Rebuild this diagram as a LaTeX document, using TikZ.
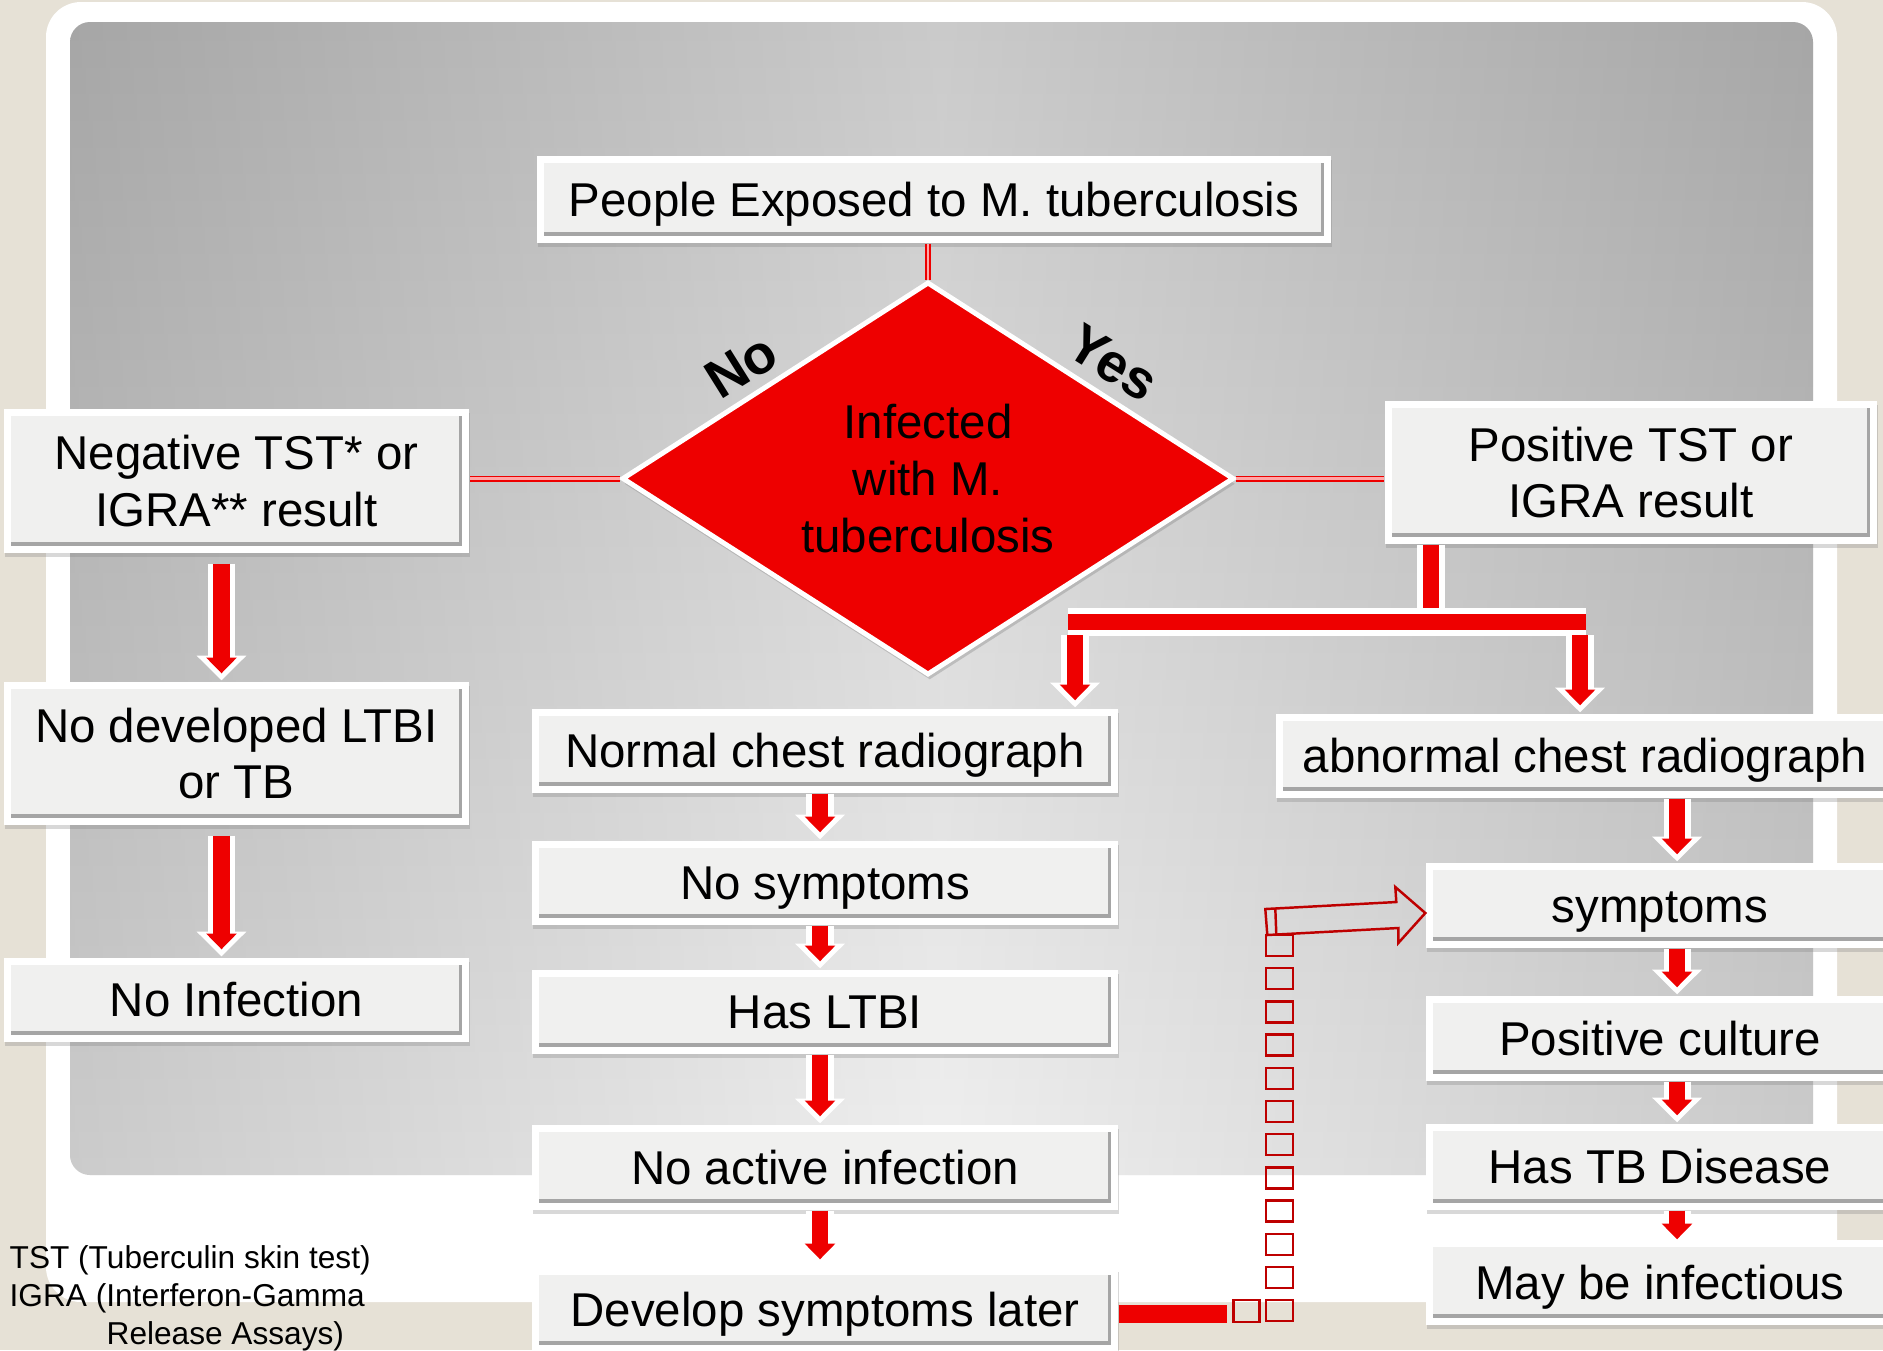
\documentclass[tikz,border=0pt]{standalone}
\usepackage{fontspec}
\setmainfont{Liberation Sans}
\usetikzlibrary{shapes.geometric,arrows.meta,shadows}

\definecolor{beige}{RGB}{230,225,214}
\definecolor{boxface}{RGB}{240,240,239}
\definecolor{bevel}{RGB}{165,165,165}
\definecolor{tbred}{RGB}{238,0,0}
\definecolor{darkred}{RGB}{190,0,0}

\begin{document}
\begin{tikzpicture}[
    box/.style={rectangle, fill=white, inner sep=0pt, align=center,
      font=\fontsize{13.5}{16.2}\selectfont,
      drop shadow={opacity=0.3, shadow xshift=0.4pt, shadow yshift=-1.2pt},
      path picture={
        \fill[bevel] ([shift={(0.07,0.07)}]path picture bounding box.south west)
          rectangle ([shift={(-0.07,-0.07)}]path picture bounding box.north east);
        \fill[boxface] ([shift={(0.07,0.11)}]path picture bounding box.south west)
          rectangle ([shift={(-0.10,-0.07)}]path picture bounding box.north east);}},
    line1/.style={box, text height=11pt, text depth=1.5pt},
    decision/.style={diamond, aspect=1.56, fill=tbred, draw=white, line width=1.4pt,
      inner sep=0pt, align=center, font=\fontsize{13.5}{16.2}\selectfont,
      drop shadow={opacity=0.35, shadow xshift=0.5pt, shadow yshift=-1.5pt}},
    lbl/.style={font=\fontsize{15.5}{18}\selectfont\bfseries, inner sep=0pt},
    note/.style={font=\fontsize{9}{10.8}\selectfont, align=left, anchor=north west, inner sep=0pt},
    thinred/.style={draw=tbred, line width=0.55pt, double=red!35!white, double distance=0.6pt},
    pipe/.style={draw=tbred, line width=4.6pt, preaction={draw=white, line width=7.7pt}},
    blockarr/.style={draw=tbred, line width=4.6pt, shorten >=0.8mm,
      -{Triangle[width=8.5pt,length=4.5pt]},
      preaction={draw=white, line width=7.7pt, shorten >=0.1mm,
        -{Triangle[width=13.7pt,length=7pt]}}},
    dashbar/.style={draw=tbred, line width=5pt},
    sq/.style={draw=darkred, line width=0.7pt},
    hollow/.style={draw=darkred, line width=0.7pt, line join=miter}
  ]
  % slide background
  \useasboundingbox (0,0) rectangle (18.83,-13.5);
  \clip (0,0) rectangle (18.83,-13.5);
  \fill[beige] (0,0) rectangle (18.83,-13.5);
  \fill[white, rounded corners=0.35cm] (0.46,-0.02) rectangle (18.37,-13.02);
  \shade[rounded corners=0.2cm, top color=black!24, bottom color=black!7] (0.70,-0.22) rectangle (18.13,-11.75);
  \shade[rounded corners=0.2cm, left color=black, right color=black, middle color=white, fill opacity=0.14] (0.70,-0.22) rectangle (18.13,-11.75);

  \node[line1, minimum width=7.94cm, minimum height=0.87cm] (people) at (9.34,-1.995) {People Exposed to M. tuberculosis};
  \node[decision, minimum width=6.12cm, minimum height=3.93cm] (infected) at (9.28,-4.785) {Infected\\with M.\\tuberculosis};
  \node[lbl, rotate=32] (nolbl) at (7.41,-3.66) {No};
  \node[lbl, rotate=-32] (yeslbl) at (11.13,-3.63) {Yes};

  % left column
  \node[box, minimum width=4.65cm, minimum height=1.44cm] (neg) at (2.365,-4.81) {Negative TST* or\\IGRA** result};
  \node[box, minimum width=4.65cm, minimum height=1.43cm] (nodev) at (2.365,-7.535) {No developed LTBI\\or TB};
  \node[line1, minimum width=4.65cm, minimum height=0.84cm] (noinf) at (2.365,-10.0) {No Infection};

  % middle column
  \node[line1, minimum width=5.86cm, minimum height=0.84cm] (normal) at (8.25,-7.51) {Normal chest radiograph};
  \node[line1, minimum width=5.86cm, minimum height=0.84cm] (nosym) at (8.25,-8.83) {No symptoms};
  \node[line1, minimum width=5.86cm, minimum height=0.84cm] (ltbi) at (8.25,-10.12) {Has LTBI};
  \node[line1, minimum width=5.86cm, minimum height=0.85cm] (noact) at (8.25,-11.675) {No active infection};
  \node[line1, minimum width=5.86cm, minimum height=0.84cm] (later) at (8.25,-13.10) {Develop symptoms later};

  % right column
  \node[box, minimum width=4.92cm, minimum height=1.43cm] (pos) at (16.31,-4.725) {Positive TST or\\IGRA result};
  \node[line1, minimum width=6.18cm, minimum height=0.84cm] (abnormal) at (15.85,-7.56) {abnormal chest radiograph};
  \node[line1, minimum width=4.68cm, minimum height=0.85cm] (symp) at (16.60,-9.055) {symptoms};
  \node[line1, minimum width=4.68cm, minimum height=0.85cm] (culture) at (16.60,-10.385) {Positive culture};
  \node[line1, minimum width=4.68cm, minimum height=0.86cm] (tbdis) at (16.60,-11.67) {Has TB Disease};
  \node[line1, minimum width=4.68cm, minimum height=0.85cm] (infect) at (16.60,-12.825) {May be infectious};

  \node[note] (footnote) at (0.09,-12.45) {TST (Tuberculin skin test)\\IGRA (Interferon-Gamma\\\hspace*{0.97cm}Release Assays)};

  % thin links round the decision
  \draw[thinred] (people.south -| infected.north) -- (infected.north);
  \draw[thinred] (infected.west) -- (infected.west -| neg.east);
  \draw[thinred] (infected.east) -- (infected.east -| pos.west);

  % fork under the positive result
  \coordinate (forkM) at (14.31,-6.22);
  \coordinate (forkL) at (10.75,-6.22);
  \coordinate (forkR) at ([xshift=-0.5mm]abnormal.north |- forkM);
  \draw[pipe] (pos.south -| forkM) -- ([yshift=1.2mm]forkM);
  \draw[pipe] ([xshift=-0.07cm]forkL) -- ([xshift=0.06cm]forkR);
  \draw[blockarr] ([yshift=-1.3mm]forkL) -- (forkL |- normal.north);
  \draw[blockarr] ([yshift=-1.3mm]forkR) -- (forkR |- abnormal.north);

  \draw[blockarr] ([xshift=-1.5mm,yshift=-1mm]neg.south) -- ([xshift=-1.5mm]nodev.north);
  \draw[blockarr] ([xshift=-1.5mm,yshift=-1mm]nodev.south) -- ([xshift=-1.5mm]noinf.north);

  \draw[blockarr] ([xshift=-0.5mm]normal.south) -- ([xshift=-0.5mm]nosym.north);
  \draw[blockarr] ([xshift=-0.5mm]nosym.south) -- ([xshift=-0.5mm]ltbi.north);
  \draw[blockarr] ([xshift=-0.5mm]ltbi.south) -- ([xshift=-0.5mm]noact.north);
  \draw[blockarr] ([xshift=-0.5mm]noact.south) -- ([xshift=-0.5mm]later.north);

  \draw[blockarr] ([xshift=1.7mm]symp.north |- abnormal.south) -- ([xshift=1.7mm]symp.north);
  \draw[blockarr] ([xshift=1.7mm]symp.south) -- ([xshift=1.7mm]culture.north);
  \draw[blockarr] ([xshift=1.7mm]culture.south) -- ([xshift=1.7mm]tbdis.north);
  \draw[blockarr] ([xshift=1.7mm]tbdis.south) -- ([xshift=1.7mm,yshift=-0.8mm]infect.north);

  % later symptoms link back up
  \draw[dashbar] ([yshift=-0.4mm]later.east) -- ++(1.08,0) coordinate (dashbend);
  \draw[sq] ([shift={(0.07,0.14)}]dashbend) rectangle ++(0.26,-0.22);
  \foreach \k in {0,...,11}
    \draw[sq] (12.66,{-9.35-0.332*\k}) rectangle ++(0.27,-0.21);
  \coordinate (tipS) at ([yshift=-0.75mm]symp.west);
  \begin{scope}[shift={(tipS)}]
    \draw[hollow] (0,0) -- (-0.30,0.26) -- (-0.29,0.11) -- (-1.60,0.04) -- (-1.58,-0.22)
      -- (-0.27,-0.15) -- (-0.27,-0.30) -- cycle;
    \draw[hollow] (-1.50,0.045) -- (-1.49,-0.215);
  \end{scope}
\end{tikzpicture}
\end{document}
